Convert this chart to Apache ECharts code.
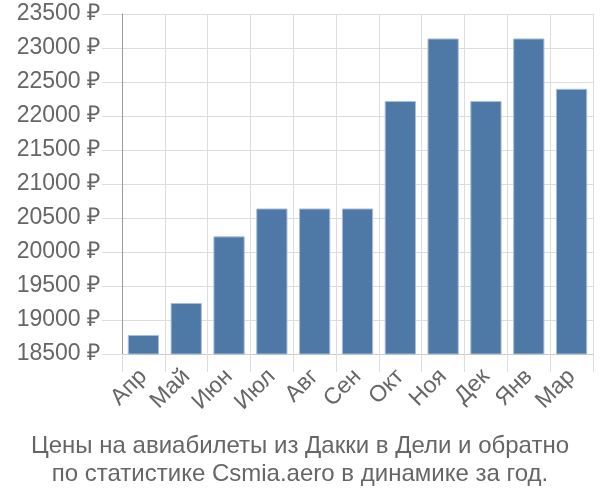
<!DOCTYPE html>
<html><head><meta charset="utf-8">
<script src="https://cdn.jsdelivr.net/npm/echarts@6/dist/echarts.min.js"></script>
<style>html,body{margin:0;padding:0;background:#fff}#c{width:600px;height:500px}</style>
</head><body><div id="c"></div>
<script>
var categories = ['Апр','Май','Июн','Июл','Авг','Сен','Окт','Ноя','Дек','Янв','Мар'];
var prices = [18780, 19250, 20230, 20640, 20640, 20640, 22220, 23140, 22220, 23140, 22400];
var titleLines = ['Цены на авиабилеты из Дакки в Дели и обратно', 'по статистике Csmia.aero в динамике за год.'];
var chart = echarts.init(document.getElementById('c'));
chart.setOption({
  animation: false,
  title: {
    text: titleLines.join('\n'),
    left: 'center', top: 427, padding: 5,
    textStyle: {fontFamily: 'Liberation Sans', fontSize: 24, fontWeight: 'normal', color: '#666', lineHeight: 28}
  },
  grid: {left: 122, right: 7, top: 14, bottom: 146, containLabel: false},
  xAxis: {
    type: 'category', data: categories,
    axisLine: {lineStyle: {color: '#ccc'}},
    axisTick: {show: true, length: 18, lineStyle: {color: '#ddd'}},
    splitLine: {show: true, lineStyle: {color: '#ddd', width: 1}},
    axisLabel: {rotate: 45, fontFamily: 'Liberation Sans', fontSize: 23, color: '#666', margin: 19, interval: 0}
  },
  yAxis: {
    type: 'value', min: 18500, max: 23500, interval: 500,
    axisLine: {show: true, lineStyle: {color: '#999'}},
    axisTick: {show: true, length: 20, lineStyle: {color: '#ddd'}},
    splitLine: {show: true, lineStyle: {color: '#ddd', width: 1}},
    axisLabel: {fontFamily: 'Liberation Sans', fontSize: 23, color: '#666', margin: 22, formatter: function(v){return v + ' ₽';}}
  },
  series: [{
    type: 'bar', data: prices, barCategoryGap: '27%',
    itemStyle: {color: '#4e79a7', borderColor: '#a9bed6', borderWidth: 1}
  }]
});
</script></body></html>
